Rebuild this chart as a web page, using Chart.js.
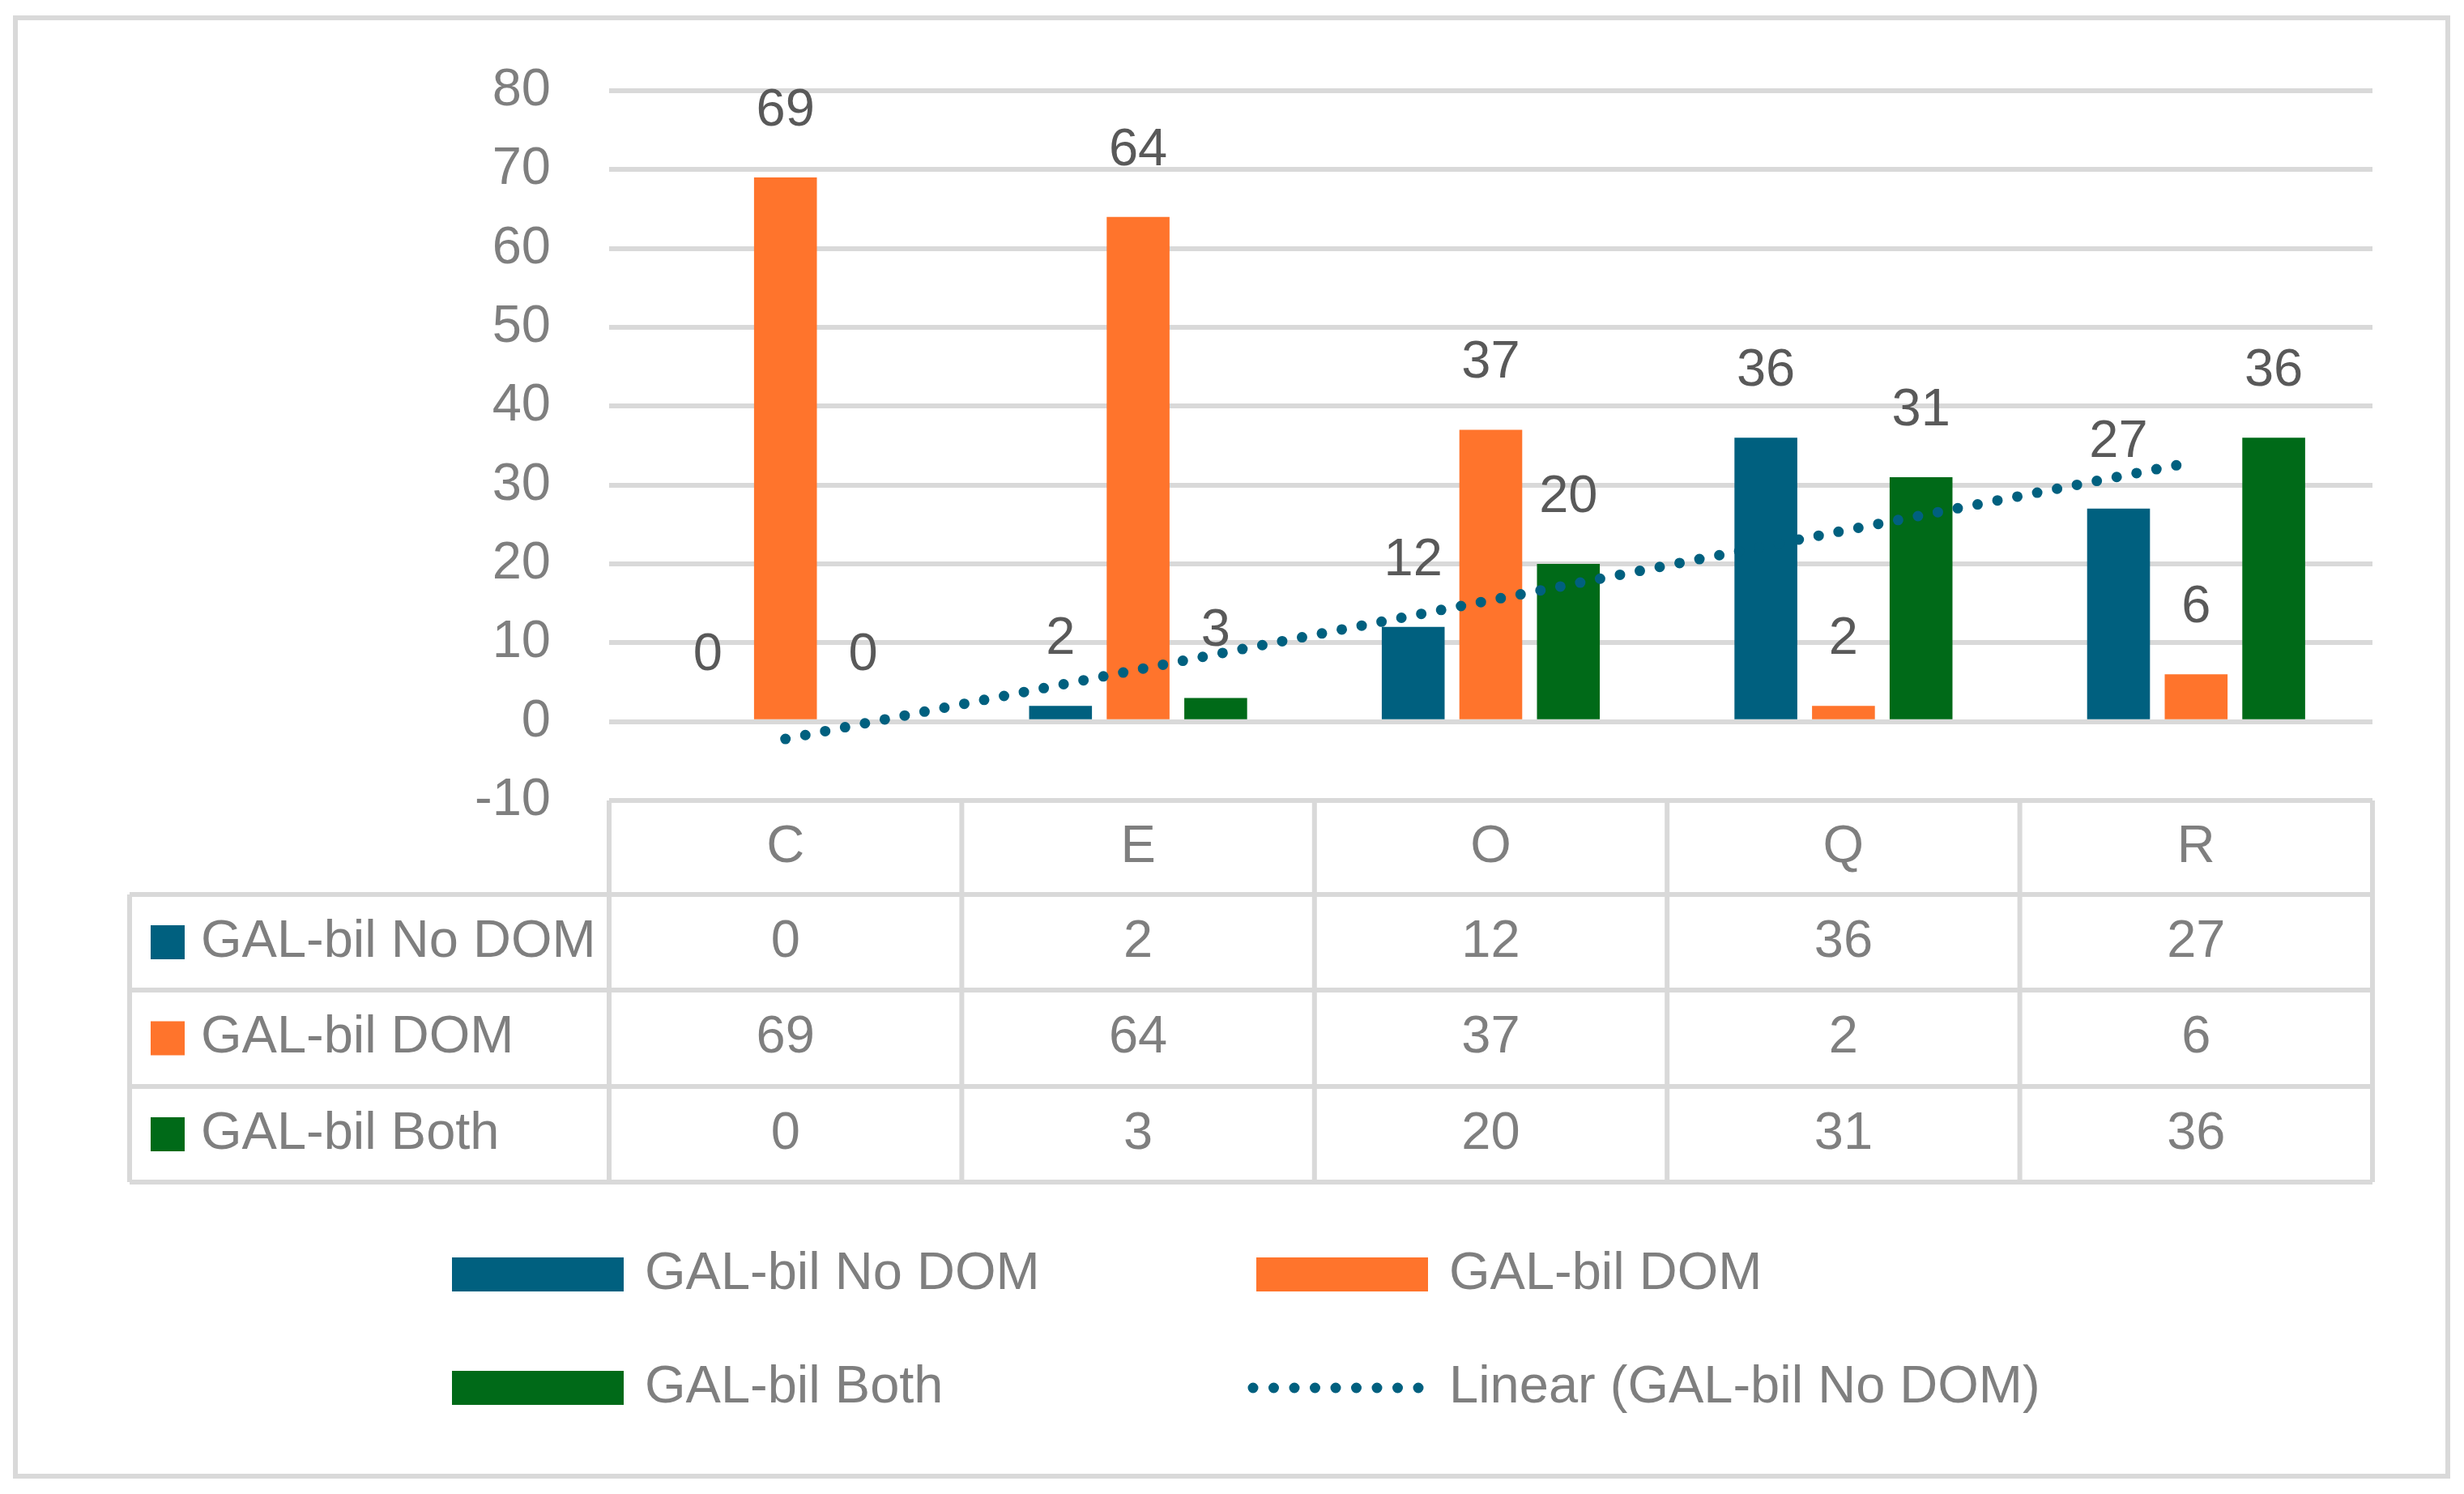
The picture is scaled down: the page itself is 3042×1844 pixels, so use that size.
<!DOCTYPE html>
<html>
<head>
<meta charset="utf-8">
<script src="https://cdn.jsdelivr.net/npm/chart.js@4.4.1/dist/chart.umd.min.js"></script>
<style>
body { margin: 0; background: #fff; }
canvas { display: block; }
</style>
</head>
<body>
<canvas id="chart" width="3042" height="1844"></canvas>
<script>
const categories = ['C', 'E', 'O', 'Q', 'R'];
const seriesNames = ['GAL-bil No DOM', 'GAL-bil DOM', 'GAL-bil Both'];
const noDom = [0, 2, 12, 36, 27];
const dom = [69, 64, 37, 2, 6];
const both = [0, 3, 20, 31, 36];
const trendName = 'Linear (GAL-bil No DOM)';

const colors = ['#00607F', '#FF742C', '#006A18'];
const FONT = "'Liberation Sans', Arial, sans-serif";
const FONT_SIZE = 65;
const textGray = '#7f7f7f';
const labelGray = '#595959';
const lineGray = '#d9d9d9';

// least squares trend, like Excel's linear trendline
function linearFit(values) {
    const n = values.length;
    const xs = values.map((v, i) => i + 1);
    const mx = xs.reduce((a, b) => a + b, 0) / n;
    const my = values.reduce((a, b) => a + b, 0) / n;
    let sxy = 0, sxx = 0;
    xs.forEach((x, i) => {
        sxy += (x - mx) * (values[i] - my);
        sxx += (x - mx) * (x - mx);
    });
    const slope = sxy / sxx;
    const intercept = my - slope * mx;
    return xs.map(x => intercept + slope * x);
}

const seriesData = [noDom, dom, both];

const tablePlugin = {
    id: 'tableAndLegend',
    beforeDraw(chart) {
        const ctx = chart.ctx;
        ctx.save();
        ctx.fillStyle = '#fff';
        ctx.fillRect(0, 0, chart.width, chart.height);
        ctx.strokeStyle = lineGray;
        ctx.lineWidth = 6;
        ctx.strokeRect(19, 22, 3003, 1800);
        ctx.restore();
    },
    afterDatasetsDraw(chart) {
        const ctx = chart.ctx;
        ctx.save();
        ctx.font = FONT_SIZE + 'px ' + FONT;
        ctx.fillStyle = labelGray;
        ctx.textAlign = 'center';
        ctx.textBaseline = 'middle';
        for (let d = 0; d < 3; d++) {
            const meta = chart.getDatasetMeta(d);
            meta.data.forEach((bar, i) => {
                ctx.fillText(String(seriesData[d][i]), bar.x, bar.y - 82);
            });
        }
        ctx.restore();
    },
    afterDraw(chart) {
        const ctx = chart.ctx;
        const area = chart.chartArea;
        const xs = chart.scales.x;
        const top = chart.scales.y.getPixelForValue(-10);
        const rows = [top, 1104, 1222, 1341, 1459];
        const tableLeft = 160;
        const bounds = [area.left];
        for (let i = 0; i < categories.length - 1; i++) {
            bounds.push((xs.getPixelForValue(i) + xs.getPixelForValue(i + 1)) / 2);
        }
        bounds.push(area.right);

        ctx.save();
        ctx.strokeStyle = lineGray;
        ctx.lineWidth = 6;
        ctx.beginPath();
        ctx.moveTo(area.left, rows[0]);
        ctx.lineTo(area.right, rows[0]);
        for (let r = 1; r < rows.length; r++) {
            ctx.moveTo(tableLeft, rows[r]);
            ctx.lineTo(area.right, rows[r]);
        }
        bounds.forEach(b => {
            ctx.moveTo(b, rows[0]);
            ctx.lineTo(b, rows[4]);
        });
        ctx.moveTo(tableLeft, rows[1]);
        ctx.lineTo(tableLeft, rows[4]);
        ctx.stroke();

        ctx.font = FONT_SIZE + 'px ' + FONT;
        ctx.fillStyle = textGray;
        ctx.textAlign = 'center';
        ctx.textBaseline = 'middle';
        categories.forEach((c, i) => {
            ctx.fillText(c, xs.getPixelForValue(i), (rows[0] + rows[1]) / 2);
        });
        seriesData.forEach((vals, s) => {
            const cy = (rows[s + 1] + rows[s + 2]) / 2;
            vals.forEach((v, i) => {
                ctx.fillText(String(v), xs.getPixelForValue(i), cy);
            });
            ctx.fillStyle = colors[s];
            ctx.fillRect(186, cy - 21, 42, 42);
            ctx.fillStyle = textGray;
            ctx.textAlign = 'left';
            ctx.fillText(seriesNames[s], 248, cy);
            ctx.textAlign = 'center';
        });

        // legend below the table
        const legendItems = [
            { name: seriesNames[0], color: colors[0], x: 558, y: 1573 },
            { name: seriesNames[1], color: colors[1], x: 1551, y: 1573 },
            { name: seriesNames[2], color: colors[2], x: 558, y: 1713 },
            { name: trendName, color: colors[0], x: 1551, y: 1713, dotted: true }
        ];
        ctx.textAlign = 'left';
        legendItems.forEach(item => {
            if (item.dotted) {
                ctx.save();
                ctx.strokeStyle = item.color;
                ctx.lineWidth = 13;
                ctx.lineCap = 'round';
                ctx.setLineDash([0, 25.5]);
                ctx.beginPath();
                ctx.moveTo(item.x - 4, item.y);
                ctx.lineTo(item.x + 205, item.y);
                ctx.stroke();
                ctx.restore();
            } else {
                ctx.fillStyle = item.color;
                ctx.fillRect(item.x, item.y - 21, 212, 42);
            }
            ctx.fillStyle = textGray;
            ctx.fillText(item.name, item.x + 238, item.y);
        });
        ctx.restore();
    }
};

const ctx = document.getElementById('chart').getContext('2d');
const chart = new Chart(ctx, {
    type: 'bar',
    data: {
        labels: categories,
        datasets: [
            { label: seriesNames[0], data: noDom, backgroundColor: colors[0], order: 1 },
            { label: seriesNames[1], data: dom, backgroundColor: colors[1], order: 1 },
            { label: seriesNames[2], data: both, backgroundColor: colors[2], order: 1 },
            {
                type: 'line',
                label: trendName,
                data: linearFit(noDom),
                borderColor: colors[0],
                borderWidth: 13,
                borderDash: [0, 25],
                borderCapStyle: 'round',
                pointRadius: 0,
                fill: false,
                tension: 0,
                order: 0
            }
        ]
    },
    options: {
        responsive: false,
        devicePixelRatio: 1,
        animation: false,
        barPercentage: 0.81,
        categoryPercentage: 0.66,
        layout: { padding: { left: 0, right: 113, top: 112, bottom: 856 } },
        plugins: {
            legend: { display: false },
            tooltip: { enabled: false }
        },
        scales: {
            x: { display: false },
            y: {
                min: -10,
                max: 80,
                ticks: {
                    stepSize: 10,
                    color: textGray,
                    padding: 72,
                    font: { family: FONT, size: FONT_SIZE }
                },
                grid: { color: lineGray, lineWidth: 6, drawTicks: false },
                border: { display: false },
                afterFit(scale) { scale.width = 752; }
            }
        }
    },
    plugins: [tablePlugin]
});
</script>
</body>
</html>
